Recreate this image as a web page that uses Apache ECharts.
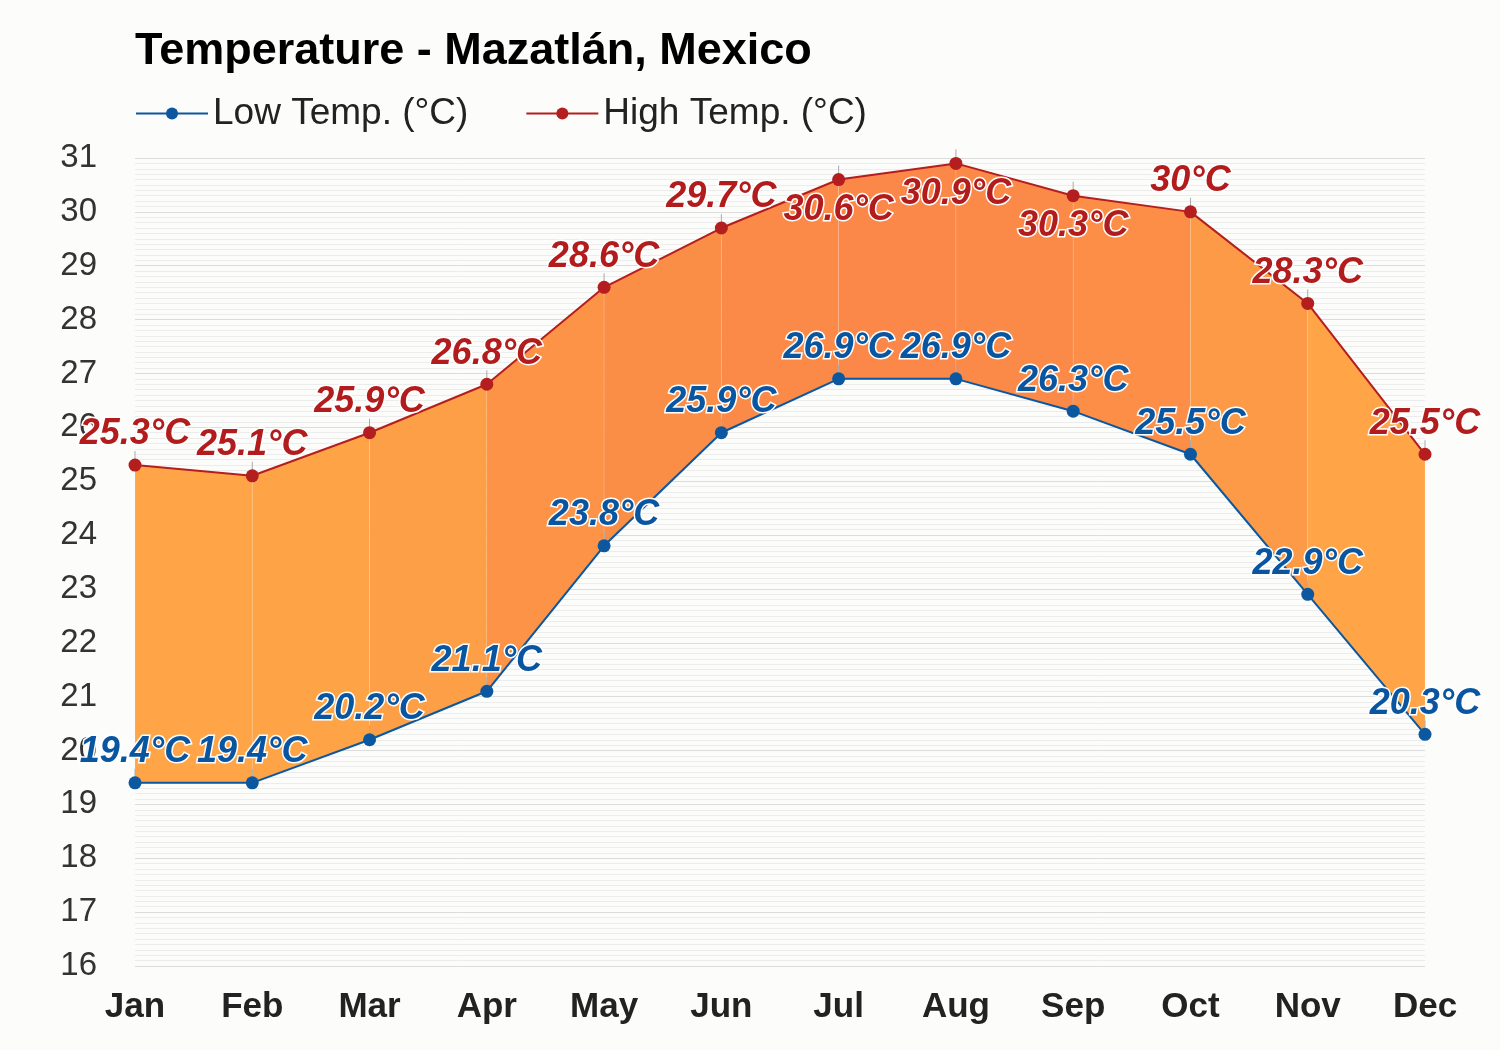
<!DOCTYPE html>
<html>
<head>
<meta charset="utf-8">
<script src="https://cdn.jsdelivr.net/npm/echarts@6/dist/echarts.min.js"></script>
<style>
html,body{margin:0;padding:0;background:#fcfcfb;}
#chart{width:1500px;height:1050px;}
</style>
</head>
<body>
<div id="chart"></div>
<script>
const months = ['Jan','Feb','Mar','Apr','May','Jun','Jul','Aug','Sep','Oct','Nov','Dec'];
const lowTemp = [19.4,19.4,20.2,21.1,23.8,25.9,26.9,26.9,26.3,25.5,22.9,20.3];
const highTemp = [25.3,25.1,25.9,26.8,28.6,29.7,30.6,30.9,30.3,30.0,28.3,25.5];
const segColors = ['#ffa548','#fea447','#fd9f47','#fc9346','#fb8e47','#fb8a48','#fb8748','#fb8a48','#fc8e47','#fc9a47','#ffa548'];
const highBelow = [6,7,8]; // indices whose high label sits under the point

const FONT = '"Liberation Sans", Arial, Helvetica, sans-serif';
const chart = echarts.init(document.getElementById('chart'));

const bandData = [];
for (let i = 0; i < months.length - 1; i++) {
  bandData.push([i, lowTemp[i], highTemp[i], lowTemp[i+1], highTemp[i+1]]);
}
const tickData = [];
for (let i = 0; i < months.length; i++) {
  tickData.push([i, lowTemp[i]]);
  tickData.push([i, highTemp[i]]);
}

const labelBase = {
  show: true,
  fontSize: 36,
  fontWeight: 'bold',
  fontStyle: 'italic',
  fontFamily: FONT,
  textBorderColor: '#ffffff',
  textBorderWidth: 3,
  formatter: p => p.value + '°C'
};

chart.setOption({
  backgroundColor: '#fcfcfb',
  animation: false,
  title: {
    text: 'Temperature - Mazatlán, Mexico',
    left: 135, top: 29, padding: 0,
    textStyle: {fontSize: 45, fontWeight: 'bold', color: '#000', fontFamily: FONT}
  },
  legend: {
    left: 135, top: 95, padding: 0,
    itemWidth: 72, itemHeight: 15, itemGap: 57,
    textStyle: {fontSize: 37, color: '#222', fontFamily: FONT},
    data: ['Low Temp. (°C)', 'High Temp. (°C)']
  },
  grid: {left: 135, right: 75, top: 158, bottom: 84},
  xAxis: {
    type: 'category',
    data: months,
    boundaryGap: false,
    axisLine: {show: false},
    axisTick: {show: false},
    splitLine: {show: false},
    axisLabel: {fontSize: 35, fontWeight: 'bold', color: '#222', fontFamily: FONT, margin: 24}
  },
  yAxis: {
    type: 'value',
    min: 16, max: 31, interval: 1,
    axisLine: {show: false},
    axisTick: {show: false},
    axisLabel: {fontSize: 33, color: '#333', fontFamily: FONT, margin: 38},
    splitLine: {lineStyle: {color: '#dcdcdc', width: 1}},
    minorTick: {show: false, splitNumber: 10},
    minorSplitLine: {show: true, lineStyle: {color: '#ececec', width: 1}}
  },
  series: [
    {
      type: 'custom',
      name: 'band',
      z: 1,
      silent: true,
      data: bandData,
      encode: {x: 0, y: [1, 2, 3, 4]},
      renderItem: function (params, api) {
        const i = api.value(0);
        const p1 = api.coord([i, api.value(1)]);
        const p2 = api.coord([i, api.value(2)]);
        const p3 = api.coord([i + 1, api.value(4)]);
        const p4 = api.coord([i + 1, api.value(3)]);
        return {
          type: 'polygon',
          shape: {points: [p1, p2, p3, p4]},
          style: {fill: segColors[params.dataIndex], stroke: 'rgba(255,255,255,0.12)', lineWidth: 1}
        };
      }
    },
    {
      type: 'custom',
      name: 'ticks',
      z: 2,
      silent: true,
      data: tickData,
      encode: {x: 0, y: 1},
      renderItem: function (params, api) {
        const p = api.coord([api.value(0), api.value(1)]);
        return {
          type: 'line',
          shape: {x1: p[0], y1: p[1] - 14, x2: p[0], y2: p[1]},
          style: {stroke: '#aaaaaa', lineWidth: 1}
        };
      }
    },
    {
      name: 'Low Temp. (°C)',
      type: 'line',
      z: 3,
      data: lowTemp,
      color: '#0b58a0',
      lineStyle: {width: 2, color: '#0b58a0'},
      symbol: 'circle', symbolSize: 13,
      itemStyle: {color: '#0b58a0'},
      label: Object.assign({}, labelBase, {position: 'top', distance: 6, color: '#0a55a0'})
    },
    {
      name: 'High Temp. (°C)',
      type: 'line',
      z: 3,
      data: highTemp.map((v, i) => highBelow.includes(i)
        ? {value: v, label: {position: 'bottom', distance: 6}}
        : v),
      color: '#b41e1e',
      lineStyle: {width: 2, color: '#b41e1e'},
      symbol: 'circle', symbolSize: 13,
      itemStyle: {color: '#b41e1e'},
      label: Object.assign({}, labelBase, {position: 'top', distance: 6, color: '#b31c1c'})
    }
  ]
});
</script>
</body>
</html>
